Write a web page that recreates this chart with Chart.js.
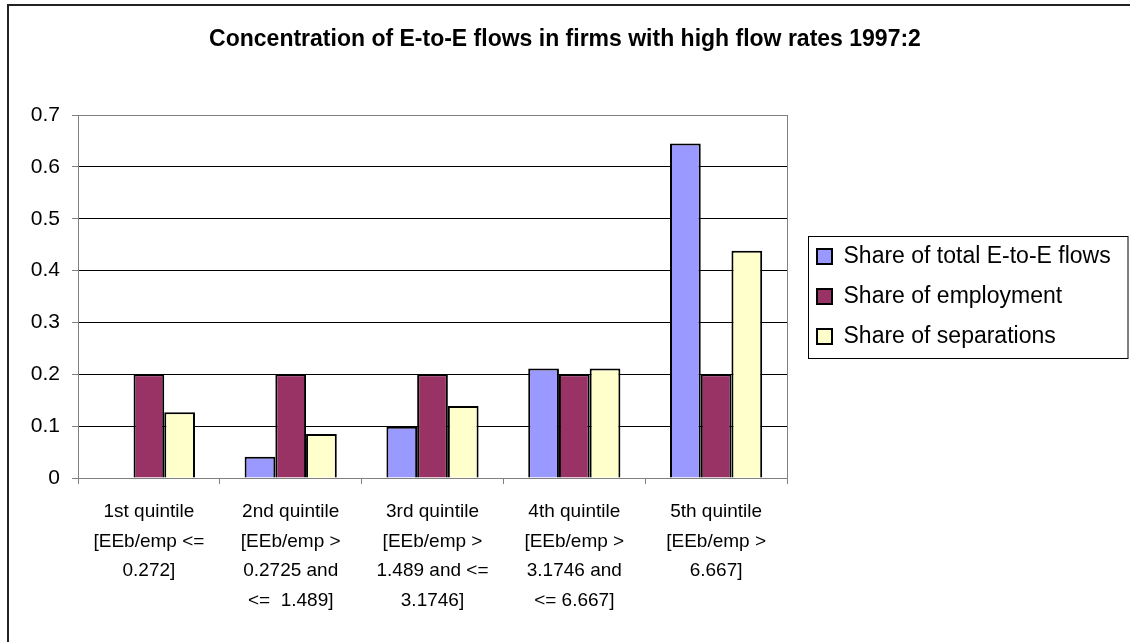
<!DOCTYPE html>
<html>
<head>
<meta charset="utf-8">
<script src="https://cdn.jsdelivr.net/npm/chart.js@4/dist/chart.umd.min.js"></script>
<style>
  html, body { margin: 0; padding: 0; background: #fff; }
  #wrap { width: 1130px; height: 642px; }
</style>
</head>
<body>
<div id="wrap"><canvas id="chart" width="1130" height="642"></canvas></div>
<script>
// quintile labels, one line per array entry
const categories = [
  ["1st quintile", "[EEb/emp <=", "0.272]"],
  ["2nd quintile", "[EEb/emp >", "0.2725 and", "<=  1.489]"],
  ["3rd quintile", "[EEb/emp >", "1.489 and <=", "3.1746]"],
  ["4th quintile", "[EEb/emp >", "3.1746 and", "<= 6.667]"],
  ["5th quintile", "[EEb/emp >", "6.667]"]
];
const flowShare = [0, 0.041, 0.099, 0.211, 0.645];
const employmentShare = [0.2, 0.2, 0.2, 0.2, 0.2];
const separationShare = [0.127, 0.085, 0.139, 0.211, 0.438];
const yTicks = [0, 0.1, 0.2, 0.3, 0.4, 0.5, 0.6, 0.7];

const FONT = "'Liberation Sans', Arial, sans-serif";
const LEGEND_W = 343;
const LEGEND_SHIFT = 13;

// frame, plot border and the boxed legend
const excelFrame = {
  id: "excelFrame",
  beforeLayout(chart) {
    const legend = chart.legend;
    if (legend && !legend._fixedFit) {
      const fit = legend.fit;
      legend.fit = function () {
        fit.call(this);
        this.width = LEGEND_W;
      };
      legend._fixedFit = true;
    }
  },
  afterLayout(chart) {
    chart.legend.left += LEGEND_SHIFT;
  },
  beforeDraw(chart) {
    const ctx = chart.ctx;
    ctx.save();
    ctx.fillStyle = "#fff";
    ctx.fillRect(0, 0, chart.width, chart.height);
    ctx.restore();
  },
  afterDraw(chart) {
    const ctx = chart.ctx;
    const a = chart.chartArea;
    ctx.save();
    // right edge of plot area
    ctx.strokeStyle = "#808080";
    ctx.lineWidth = 1;
    ctx.beginPath();
    ctx.moveTo(Math.round(a.right) + 0.5, a.top);
    ctx.lineTo(Math.round(a.right) + 0.5, a.bottom);
    ctx.stroke();

    // legend box
    const lg = chart.legend;
    const pad = lg.options.labels.padding;
    const colH = lg.columnSizes[0].height;
    const blockTop = ((lg.top + pad) + (lg.bottom - colH)) / 2;
    const bx = Math.round(lg.left + 8) + 0.5;
    const by = Math.round(blockTop - 9) + 0.5;
    const bh = Math.round(colH + 2);
    ctx.strokeStyle = "#000";
    ctx.strokeRect(bx, by, 1128 - bx, bh);

    // chart frame (left and top edges)
    ctx.strokeStyle = "#222";
    ctx.lineWidth = 2;
    ctx.beginPath();
    ctx.moveTo(8, chart.height);
    ctx.lineTo(8, 5);
    ctx.lineTo(chart.width, 5);
    ctx.stroke();
    ctx.restore();
  }
};

new Chart(document.getElementById("chart"), {
  type: "bar",
  data: {
    labels: categories,
    datasets: [
      {
        label: "Share of total E-to-E flows",
        data: flowShare,
        backgroundColor: "#9999FF",
        borderColor: "#000",
        borderWidth: 2
      },
      {
        label: "Share of employment",
        data: employmentShare,
        backgroundColor: "#993366",
        borderColor: "#000",
        borderWidth: 2
      },
      {
        label: "Share of separations",
        data: separationShare,
        backgroundColor: "#FFFFCC",
        borderColor: "#000",
        borderWidth: 2
      }
    ]
  },
  options: {
    responsive: false,
    animation: false,
    devicePixelRatio: 1,
    layout: { padding: { left: 0, right: 0, top: 0, bottom: 0 } },
    datasets: {
      bar: { categoryPercentage: 0.65, barPercentage: 1.0 }
    },
    plugins: {
      title: {
        display: true,
        text: "Concentration of E-to-E flows in firms with high flow rates 1997:2",
        color: "#000",
        font: { family: FONT, size: 23, weight: "bold", lineHeight: 1.2 },
        padding: { top: 26, bottom: 61.4 }
      },
      legend: {
        position: "right",
        fullSize: false,
        align: "center",
        labels: {
          color: "#000",
          font: { family: FONT, size: 23 },
          boxWidth: 15,
          boxHeight: 15,
          padding: 17
        }
      },
      tooltip: { enabled: false }
    },
    scales: {
      x: {
        offset: true,
        grid: {
          drawOnChartArea: false,
          drawTicks: true,
          tickLength: 6,
          color: "#808080",
          offset: true
        },
        border: { color: "#808080" },
        ticks: {
          color: "#000",
          maxRotation: 0,
          autoSkip: false,
          padding: 13,
          font: { family: FONT, size: 19, lineHeight: 1.56 }
        },
        afterFit(scale) { scale.height = 164; }
      },
      y: {
        min: 0,
        max: 0.7,
        afterBuildTicks(scale) {
          scale.ticks = yTicks.map(v => ({ value: v }));
        },
        grid: {
          color: ctx => (ctx.tick && (ctx.tick.value === 0 || ctx.tick.value === 0.7)) ? "#808080" : "#000",
          tickColor: "#808080",
          tickLength: 6
        },
        border: { color: "#808080" },
        ticks: {
          color: "#000",
          padding: 12,
          font: { family: FONT, size: 21 },
          callback: v => String(+v.toFixed(1))
        },
        afterFit(scale) { scale.width = 78; }
      }
    }
  },
  plugins: [excelFrame]
});
</script>
</body>
</html>
